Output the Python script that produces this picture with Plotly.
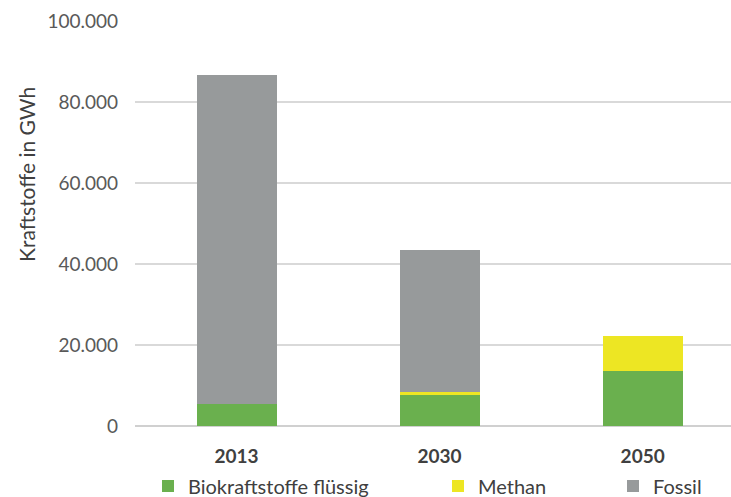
import plotly.graph_objects as go

years = ["2013", "2030", "2050"]
bio = [5400, 7700, 13600]
methan = [0, 800, 8700]
fossil = [81300, 35000, 0]

names = ["Biokraftstoffe flüssig", "Methan", "Fossil"]
colors = ["#6AB04E", "#EDE623", "#979A9B"]
series = [bio, methan, fossil]
legends = ["legend", "legend2", "legend3"]

FONT = "Lato"
TXT = "#404040"

L, R, T, B = 135, 0, 21, 71
W, H = 731, 497
PW = W - L - R
PH = H - T - B

fig = go.Figure()
for name, vals, col, lg in zip(names, series, colors, legends):
    fig.add_trace(go.Bar(x=years, y=vals, name=name, marker_color=col,
                         marker_line_width=0, legend=lg, showlegend=True))

leg_common = dict(orientation="h", yref="paper", visible=True,
                  y=-(486 - (T + PH)) / PH,
                  yanchor="middle", xanchor="left",
                  font=dict(family=FONT, size=20, color=TXT),
                  bgcolor="rgba(0,0,0,0)")
fig.update_layout(
    barmode="stack",
    bargap=0.606,
    showlegend=True,
    width=W, height=H,
    margin=dict(l=L, r=R, t=T, b=B, autoexpand=False),
    paper_bgcolor="white", plot_bgcolor="white",
    separators=",.",
    font=dict(family=FONT, color=TXT),
    legend=dict(x=(148 - L) / PW, **leg_common),
    legend2=dict(x=(438 - L) / PW, **leg_common),
    legend3=dict(x=(613 - L) / PW, **leg_common),
    xaxis=dict(range=[-0.5, 2.435], showgrid=False, showline=False, ticks="",
               ticklabelstandoff=17,
               tickfont=dict(family=FONT, size=19, color=TXT, weight="bold")),
    yaxis=dict(range=[0, 100000], dtick=20000, tickformat=",d",
               gridcolor="#D9D9D9", gridwidth=2, zeroline=True,
               zerolinecolor="#D0D0D0", zerolinewidth=2,
               ticks="", ticklabelstandoff=16,
               tickfont=dict(family=FONT, size=19, color="#595959")),
    annotations=[dict(text="Kraftstoffe in GWh", xref="paper", yref="paper",
                      x=(27 - L) / PW, y=(H - B - 175) / PH, textangle=-90,
                      showarrow=False, xanchor="center", yanchor="middle",
                      font=dict(family=FONT, size=21, color=TXT))],
)
fig.write_html("out.html", config={"displayModeBar": False},
               post_script="document.body.style.margin='0';document.body.style.overflow='hidden';")
